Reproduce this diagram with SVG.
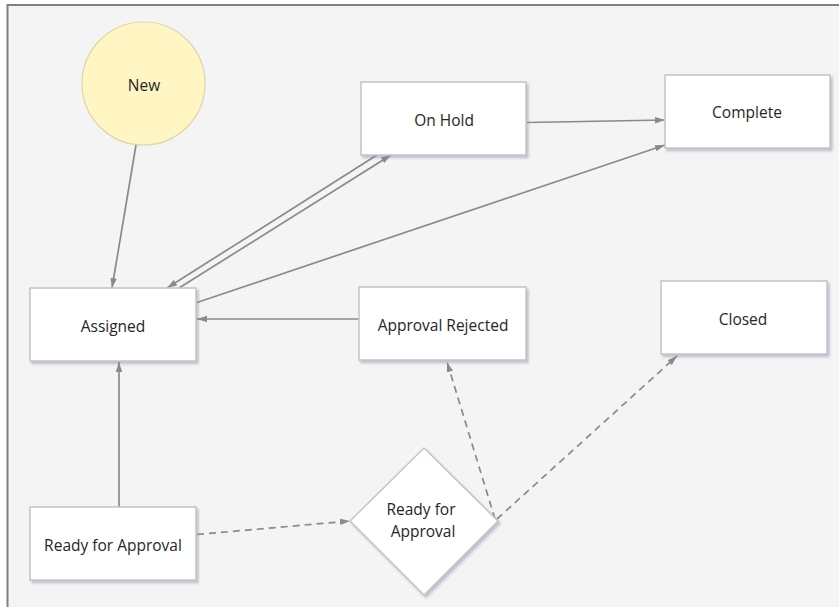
<svg xmlns="http://www.w3.org/2000/svg" width="839" height="607" viewBox="0 0 839 607">
  <defs>
    <style>
      .box { fill: #ffffff; stroke: #c4c4c4; stroke-width: 1.5; filter: url(#shadow); }
      .lbl { font-family: "Open Sans", "Liberation Sans", sans-serif; font-size: 15.5px; fill: #262626; text-anchor: middle; }
      .edge { fill: none; stroke: #8a8a8a; stroke-width: 1.7; marker-end: url(#arrow); }
      .dash { stroke-dasharray: 7 5; }
    </style>
    <filter id="shadow" x="-10%" y="-10%" width="130%" height="140%">
      <feDropShadow dx="2" dy="2.5" stdDeviation="1.2" flood-color="#7d8aa0" flood-opacity="0.45"/>
    </filter>
    <marker id="arrow" markerUnits="userSpaceOnUse" markerWidth="11" markerHeight="8" refX="10" refY="4" orient="auto">
      <path d="M0,0.8 L10,4 L0,7.2 z" fill="#8a8a8a"/>
    </marker>
  </defs>

  <rect x="0" y="0" width="839" height="607" fill="#ffffff"/>
  <rect x="7.5" y="5" width="845" height="615" fill="#f4f4f4" stroke="#808080" stroke-width="2"/>

  <g id="connectors">
    <line class="edge" x1="136" y1="145" x2="112" y2="288"/>
    <line class="edge" x1="377" y1="155" x2="167" y2="288"/>
    <line class="edge" x1="179" y1="288" x2="391" y2="155"/>
    <line class="edge" x1="197" y1="302.5" x2="665" y2="145"/>
    <line class="edge" x1="527" y1="122.5" x2="665" y2="120"/>
    <line class="edge" x1="359" y1="319" x2="197" y2="319"/>
    <line class="edge" x1="119" y1="507" x2="119" y2="362"/>
    <line class="edge dash" x1="197" y1="534.5" x2="350" y2="521"/>
    <line class="edge dash" x1="495" y1="519" x2="447" y2="362"/>
    <line class="edge dash" x1="497" y1="519" x2="677" y2="356"/>
  </g>

  <g id="node-new">
    <circle cx="143.5" cy="83.5" r="61.5" fill="#fff6c4" stroke="#dcd6a8" stroke-width="1.2"/>
    <text class="lbl" x="144" y="91">New</text>
  </g>
  <g id="node-onhold">
    <rect class="box" x="361" y="82" width="165" height="73"/>
    <text class="lbl" x="444" y="126">On Hold</text>
  </g>
  <g id="node-complete">
    <rect class="box" x="665" y="75" width="165" height="73"/>
    <text class="lbl" x="747" y="118">Complete</text>
  </g>
  <g id="node-assigned">
    <rect class="box" x="30" y="288" width="166" height="73"/>
    <text class="lbl" x="113" y="332">Assigned</text>
  </g>
  <g id="node-approval-rejected">
    <rect class="box" x="359" y="287" width="167" height="73"/>
    <text class="lbl" x="443" y="331">Approval Rejected</text>
  </g>
  <g id="node-closed">
    <rect class="box" x="661" y="281" width="166" height="73"/>
    <text class="lbl" x="743" y="325">Closed</text>
  </g>
  <g id="node-ready-for-approval">
    <rect class="box" x="30" y="507" width="166" height="73"/>
    <text class="lbl" x="113" y="551">Ready for Approval</text>
  </g>
  <g id="node-ready-decision">
    <polygon class="box" points="424,448 498,521 424,595 350,521"/>
    <text class="lbl" x="421" y="515">Ready for</text>
    <text class="lbl" x="423" y="536.5">Approval</text>
  </g>
</svg>
